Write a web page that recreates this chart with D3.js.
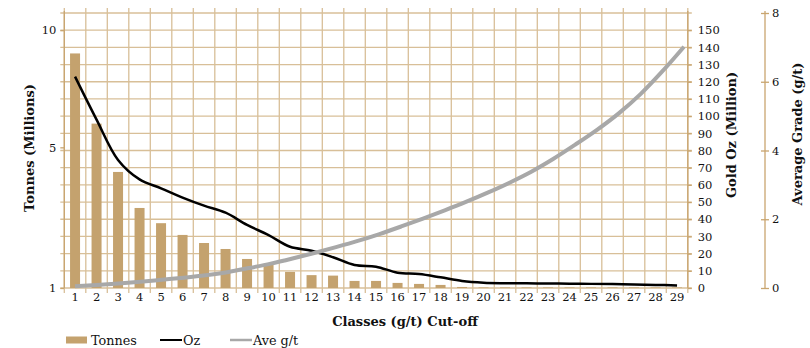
<!DOCTYPE html>
<html>
<head>
<meta charset="utf-8">
<script src="https://cdn.jsdelivr.net/npm/d3@7"></script>
<style>
  body { margin: 0; background: #fff; }
  svg text { font-family: "DejaVu Serif", serif; fill: #111; }
</style>
</head>
<body>
<div id="chart"></div>
<script>
// Cut-off classes (g/t)
const classes = [1, 2, 3, 4, 5, 6, 7, 8, 9, 10, 11, 12, 13, 14, 15, 16, 17, 18, 19, 20,
                 21, 22, 23, 24, 25, 26, 27, 28, 29];
// Tonnes (Millions), left axis
const tonnes = [8.9, 5.9, 4.13, 2.98, 2.54, 2.22, 2.01, 1.86, 1.62, 1.5,
                1.33, 1.26, 1.25, 1.14, 1.14, 1.1, 1.08, 1.06, 1.02, 1.01,
                1.01, 1.01, 1.01, 1.01, 1.01, 1.01, 1.01, 1.01, 1.01];
// Gold Oz (Million)
const oz = [123, 98, 74.5, 63.2, 58, 52.6, 47.9, 43.8, 36.7, 30.8,
            24, 21.7, 17.9, 13.4, 12.4, 8.9, 8.1, 6.2, 4.1, 3.1,
            2.8, 2.7, 2.6, 2.5, 2.4, 2.3, 2.1, 1.8, 1.5];
// Average grade (g/t)
const aveGrade = [0.05, 0.09, 0.13, 0.18, 0.24, 0.3, 0.37, 0.46, 0.58, 0.71,
                  0.86, 1.02, 1.19, 1.37, 1.57, 1.79, 2.02, 2.26, 2.51, 2.78,
                  3.07, 3.39, 3.76, 4.17, 4.6, 5.08, 5.64, 6.3, 7.02];

const tonneTicks = [1, 5, 10];
const ozTicks = d3.range(0, 151, 10);
const gradeTicks = [0, 2, 4, 6, 8];

const width = 810, height = 348;
const plotLeft = 64.3, plotRight = 687.8, plotTop = 13, plotBottom = 288;

const gridColor = "#d8bf98";
const axisColor = "#c9a56f";
const barColor = "#c4a26e";

const svg = d3.select("#chart").append("svg")
    .attr("width", width)
    .attr("height", height);

const x = d3.scaleBand().domain(classes).range([plotLeft, plotRight]).paddingInner(0).paddingOuter(0);
// the grade series sits on its own category axis in the original
const xGrade = d3.scalePoint().domain(classes).range([75, 684]);

const yOz = d3.scaleLinear().domain([0, 160]).range([plotBottom, plotTop]);
const yTon = d3.scalePow().exponent(0.6).domain([1, 10]).range([plotBottom, yOz(150)]);
const yGrade = d3.scaleLinear().domain([0, 8]).range([plotBottom, plotTop]);

// Grid
const grid = svg.append("g");
grid.selectAll("line.h")
    .data(d3.range(0, 161, 10))
    .join("line")
    .attr("x1", plotLeft - 4).attr("x2", plotRight + 4)
    .attr("y1", d => yOz(d)).attr("y2", d => yOz(d))
    .attr("stroke", gridColor).attr("stroke-width", 1.3);
grid.selectAll("line.v")
    .data(classes.concat([null]))
    .join("line")
    .attr("x1", (d, i) => plotLeft + i * x.bandwidth())
    .attr("x2", (d, i) => plotLeft + i * x.bandwidth())
    .attr("y1", plotTop - 5).attr("y2", plotBottom + 5)
    .attr("stroke", gridColor).attr("stroke-width", 1.3);

// Bars
svg.append("g")
    .selectAll("rect")
    .data(classes)
    .join("rect")
    .attr("x", d => x(d) + x.bandwidth() / 2 - 5)
    .attr("width", 10)
    .attr("y", (d, i) => yTon(tonnes[i]))
    .attr("height", (d, i) => yTon(1) - yTon(tonnes[i]))
    .attr("fill", barColor);

// Left axis
const axL = svg.append("g").attr("transform", `translate(${plotLeft},0)`)
    .call(d3.axisLeft(yTon).tickValues(tonneTicks).tickSize(4).tickPadding(4).tickFormat(d3.format("d")));
// Right axes
const axOz = svg.append("g").attr("transform", `translate(${plotRight},0)`)
    .call(d3.axisRight(yOz).tickValues(ozTicks).tickSize(4).tickPadding(6));
const axG = svg.append("g").attr("transform", "translate(765,0)")
    .call(d3.axisRight(yGrade).tickValues(gradeTicks).tickSize(4).tickPadding(3));
axG.selectAll(".tick line").attr("x1", -4);
// Bottom axis
const axB = svg.append("g").attr("transform", `translate(0,${plotBottom})`)
    .call(d3.axisBottom(x).tickSize(0).tickPadding(5));

[axL, axOz, axG, axB].forEach(a => {
    a.select(".domain").attr("stroke", axisColor).attr("stroke-width", 1.3);
    a.selectAll(".tick line").attr("stroke", axisColor).attr("stroke-width", 1.3);
    a.selectAll("text").attr("font-size", 11.5).attr("font-family", "DejaVu Serif").attr("fill", "#111");
});
axL.select(".domain").attr("d", `M0,${plotTop - 2}V${plotBottom}`);
axOz.select(".domain").attr("d", `M0,${plotTop - 2}V${plotBottom}`);
axG.select(".domain").attr("d", `M0,${plotTop - 2}V${plotBottom}`);
axB.select(".domain").remove();

// Lines
const lineOz = d3.line()
    .x((d, i) => x(classes[i]) + x.bandwidth() / 2)
    .y(d => yOz(d))
    .curve(d3.curveCatmullRom.alpha(0.5));
svg.append("path")
    .datum(oz)
    .attr("d", lineOz)
    .attr("fill", "none")
    .attr("stroke", "#000")
    .attr("stroke-width", 2.5);

const lineGrade = d3.line()
    .x((d, i) => xGrade(classes[i]))
    .y(d => yGrade(d))
    .curve(d3.curveCatmullRom.alpha(0.5));
svg.append("path")
    .datum(aveGrade)
    .attr("d", lineGrade)
    .attr("fill", "none")
    .attr("stroke", "#a8a8a8")
    .attr("stroke-width", 4);

// Axis titles
const titleSize = 13;
svg.append("text")
    .attr("transform", "translate(34,148) rotate(-90)")
    .attr("text-anchor", "middle")
    .attr("font-weight", "bold").attr("font-size", titleSize)
    .text("Tonnes (Millions)");
svg.append("text")
    .attr("transform", "translate(736,135) rotate(-90)")
    .attr("text-anchor", "middle")
    .attr("font-weight", "bold").attr("font-size", titleSize)
    .text("Gold Oz (Million)");
svg.append("text")
    .attr("transform", "translate(802,134) rotate(-90)")
    .attr("text-anchor", "middle")
    .attr("font-weight", "bold").attr("font-size", titleSize)
    .text("Average Grade (g/t)");
svg.append("text")
    .attr("x", 405).attr("y", 326)
    .attr("text-anchor", "middle")
    .attr("font-weight", "bold").attr("font-size", titleSize)
    .text("Classes (g/t) Cut-off");

// Legend
const legendSize = 12.8;
const legend = svg.append("g").attr("transform", "translate(66,340)");
legend.append("rect").attr("x", 0).attr("y", -3.5).attr("width", 21).attr("height", 7).attr("fill", barColor);
legend.append("text").attr("x", 25).attr("y", 4.5).attr("font-size", legendSize).text("Tonnes");
legend.append("line").attr("x1", 94).attr("x2", 116).attr("y1", 0).attr("y2", 0).attr("stroke", "#000").attr("stroke-width", 2);
legend.append("text").attr("x", 117).attr("y", 4.5).attr("font-size", legendSize).text("Oz");
legend.append("line").attr("x1", 164).attr("x2", 186).attr("y1", 0).attr("y2", 0).attr("stroke", "#a8a8a8").attr("stroke-width", 2.5);
legend.append("text").attr("x", 187).attr("y", 4.5).attr("font-size", legendSize).text("Ave g/t");
</script>
</body>
</html>
